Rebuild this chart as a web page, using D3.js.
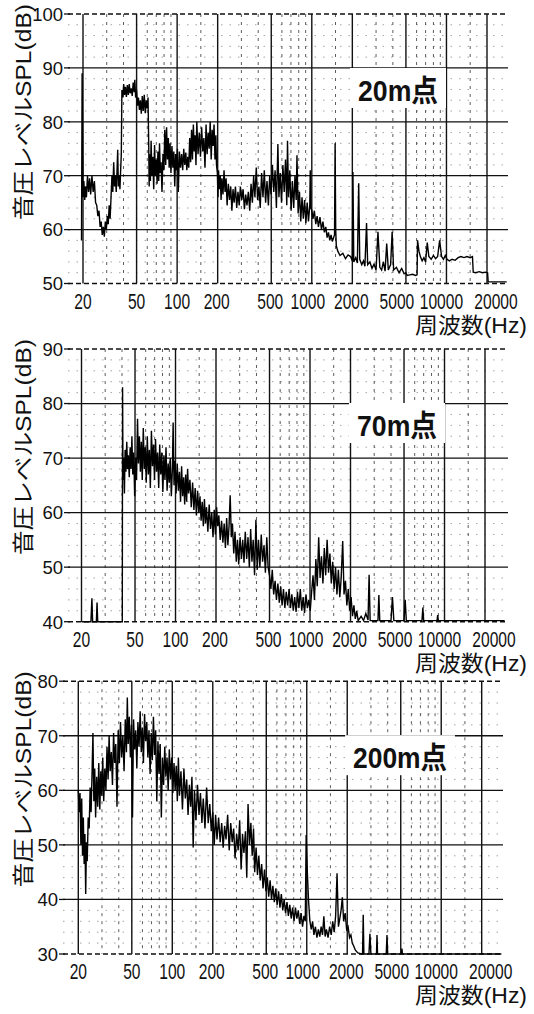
<!DOCTYPE html>
<html><head><meta charset="utf-8">
<script src="https://cdn.jsdelivr.net/npm/d3@7"></script>
<style>
html,body{margin:0;padding:0;background:#fff;}
svg{display:block;}
text{font-family:"Liberation Sans","Noto Sans CJK JP",sans-serif;fill:#111;}
</style></head><body>
<svg id="chart" width="534" height="1014"></svg>
<script>
// ---------- data ----------
const xTickValues = [20,50,100,200,500,1000,2000,5000,10000,20000];
const xTickLabels = ["20","50","100","200","500","1000","2000","5000","10000","20000"];
const minorFreqs = [30,40,60,70,80,90,150,300,400,600,700,800,900,1500,3000,4000,6000,7000,8000,9000,15000];
const yTicks20m = [50,60,70,80,90,100];
const yTicks70m = [40,50,60,70,80,90];
const yTicks200m = [30,40,50,60,70,80];
const panelTitles = ["20m点","70m点","200m点"];
const yAxisTitle = "音圧レベルSPL(dB)";
const xAxisTitle = "周波数(Hz)";

const trace20m = [[19.5,58],[19.7,89],[20.0,66],[20.3,69],[20.6,65.5],[20.9,68],[21.2,66],[21.6,70],[22.0,67],[22.4,69.5],[22.8,66.5],[23.3,70],[23.8,67],[24.3,69],[24.8,65],[25.3,64.5],[25.8,62.5],[26.3,63.5],[26.8,60.5],[27.3,61.5],[27.8,59],[28.3,60.5],[28.8,58.7],[29.3,61.5],[29.8,60],[30.3,62.5],[30.8,61],[31.3,64.5],[31.8,62],[32.3,66],[32.8,70],[33.3,67],[33.8,72.5],[34.3,68],[34.8,70],[35.3,67],[35.8,71],[36.2,74.8],[36.6,68],[37.1,70],[37.6,67.5],[38.0,70.5],[38.5,74],[38.9,85.9],[39.5,84.5],[40.1,87],[40.7,85],[41.3,86.5],[42.0,84.6],[42.7,86.8],[43.4,85],[44.1,87],[44.8,85.3],[45.6,86.2],[46.4,84.8],[47.2,87.3],[48.0,85.5],[48.5,87.8],[49.2,84.5],[50.0,85.8],[50.8,83],[51.6,84.5],[52.5,82.2],[53.3,84],[54.2,81.5],[55.1,84.8],[56.0,82],[57.0,85],[58.0,81.6],[59.0,84],[60.0,82.5],[60.8,84.5],[61.5,76],[62.0,68],[62.5,74],[63.3,69],[64.1,76.5],[65.0,70],[66.0,73.5],[67.0,67.5],[68.0,75.7],[69.0,70],[70.0,73],[71.0,68.5],[72.0,74.5],[73.0,69],[74.0,76],[75.0,70.5],[76.0,72.5],[77.2,67],[78.5,74],[79.8,71],[81.0,78.5],[82.3,72],[83.5,79],[84.8,73],[86.0,77],[87.3,71.5],[88.6,76],[90.0,70.5],[91.5,75.5],[93.0,71.5],[94.5,74.5],[96.0,68],[97.5,74],[99.0,71],[100.5,75],[102,67],[104,74.5],[106,71.5],[108,74],[110,71],[112,75],[114,72],[116,74.3],[118,71],[120,73.5],[122,71.5],[124,77],[126,72.5],[128,78.5],[130,73],[132,79.5],[134,74.5],[136,77.5],[138,72],[140,80],[143,74],[146,78],[149,73.5],[152,79],[155,74.5],[158,77],[161,71.5],[164,79.5],[167,74],[170,78],[173,75],[176,80],[179,73],[182,78.5],[185,75.5],[188,79.5],[191,73],[194,77.5],[196,72],[199,70.5],[201,66],[203,71],[206,67.5],[209,70],[212,65.5],[215,69.5],[219,66.5],[223,71],[227,67],[231,69.5],[235,64.5],[240,68.5],[245,65.5],[250,68],[255,63.5],[260,67.5],[265,65],[271,68],[277,64],[283,67],[289,64.5],[295,68],[302,65.5],[309,67.5],[316,63.8],[323,66.5],[330,64.5],[338,67],[346,63.5],[354,68.5],[362,65],[370,70],[378,66],[387,71.5],[396,65.5],[405,68],[414,64],[424,70.5],[434,66],[444,71],[454,65],[465,69],[476,64.5],[487,70],[498,66.5],[510,72],[522,67],[534,71],[546,64],[560,75.9],[570,66],[583,70.5],[596,65],[610,72],[624,67],[638,73],[652,64.5],[660,76.5],[672,66],[687,71],[702,63.5],[718,69],[734,64],[750,70],[766,65.5],[776,73.8],[792,63],[810,67],[828,61.5],[846,66],[865,62],[884,65.5],[904,61.2],[924,65],[945,61.5],[966,64.5],[974,71],[985,64],[1000,63.6],[1020,62],[1045,63.5],[1070,61],[1095,62.5],[1120,60.5],[1150,62.3],[1180,60],[1210,61.5],[1240,59.5],[1270,60.5],[1300,58.5],[1330,59.5],[1360,58],[1390,59],[1420,57.8],[1450,58.5],[1475,59],[1490,76],[1505,60],[1520,57],[1560,56],[1620,55.2],[1700,55.6],[1780,54.6],[1860,55.3],[1940,55],[2000,54.2],[2020,70.7],[2050,54],[2120,54.8],[2180,53.8],[2230,68.6],[2270,54.5],[2350,53.5],[2420,54.2],[2480,53.2],[2550,61.2],[2600,53.5],[2700,54],[2800,52.8],[2900,53.6],[3000,52.5],[3100,59.6],[3200,53],[3300,52.5],[3400,54],[3500,52.3],[3600,57.4],[3700,52.5],[3850,53.5],[3950,59.6],[4050,52.5],[4250,53],[4450,52],[4650,52.8],[4850,51.8],[5000,52],[5100,51.5],[5350,51.6],[5600,51.7],[5900,51.5],[6050,51.6],[6100,58],[6250,56],[6400,55],[6600,54.2],[6800,54.8],[7000,54],[7200,57.6],[7400,55],[7700,54.5],[8000,55.2],[8300,54.6],[8600,55],[8900,58],[9200,55],[9500,54.5],[9800,55.2],[10100,54.5],[10500,54.2],[11000,54.5],[11600,54.3],[12200,54.8],[12800,55],[13500,54.8],[14200,55],[15000,54.8],[15600,55],[15800,52.1],[16500,52],[17500,52.2],[18500,52],[19500,52.1],[20200,52],[20400,50.3],[22000,50.3],[28000,50.3]];

const trace70m = [[20,40],[23.5,40],[23.9,44.3],[24.2,40],[25.8,40],[26.1,43.5],[26.4,40],[30,40],[35,40],[40.2,40],[40.4,83],[40.7,66],[41.2,70],[41.7,63.5],[42.2,71.5],[42.8,67.5],[43.4,73],[44.0,68],[44.6,70.5],[45.3,66.5],[46.0,72],[46.7,68],[47.4,74],[48.1,67],[48.9,71],[49.7,63],[50.5,70],[51.3,66],[52.2,77.2],[53.0,69],[53.9,74],[54.8,67.5],[55.7,73],[56.6,66],[57.6,75.5],[58.6,68],[59.6,72],[60.6,65.5],[61.7,74],[62.8,67],[63.9,71.5],[65.0,64.5],[66.2,75],[67.4,68.5],[68.6,72.5],[69.8,66],[71.0,73.5],[72.3,67.5],[73.6,71],[75.0,64.5],[76.3,72.5],[77.7,67],[79.1,71],[80.5,63.8],[82.0,70.5],[83.5,66],[85.0,72],[86.6,64],[88.2,69],[89.8,65.5],[91.4,70],[93.1,63],[94.8,68],[96.0,76.5],[97.5,65],[99.2,69.5],[101,63.5],[103,69],[105,64],[107,67.5],[109,62],[111,68.5],[113,63],[115,66.5],[117,61.5],[119,67],[121,62],[123,68],[125,63.5],[128,66],[131,61],[134,65.5],[137,60.5],[140,64.5],[143,59.5],[146,64],[149,60],[152,63],[155,58.5],[158,62],[161,57.5],[164,62.5],[167,58],[170,61],[174,56.5],[178,61.5],[182,57],[186,60],[190,55.5],[194,60.5],[198,56],[202,61],[206,57.5],[210,59.5],[215,55],[220,58.5],[225,54.5],[230,58],[235,53.5],[240,59],[245,54],[250,57.5],[255,63.2],[260,55.5],[265,58],[271,52.5],[277,56.5],[283,51],[289,55],[295,50.5],[302,55.5],[309,51.5],[316,55],[323,50.8],[330,56.5],[338,51.5],[346,55.5],[354,50],[362,57],[370,51],[378,55],[387,48.5],[396,58.7],[405,49.5],[414,55],[424,50],[434,56],[444,51],[455,54],[466,49],[477,55.5],[488,50],[500,48.5],[512,46],[524,49.5],[537,45],[550,47.5],[563,44],[577,47],[591,43.5],[605,46.5],[620,43],[635,46],[650,42.5],[666,45.5],[682,43],[699,46],[716,42.5],[733,45],[751,42],[769,44.5],[788,41.8],[807,45.5],[827,42.5],[847,46],[868,42],[889,44.5],[911,41.6],[933,45],[956,42.5],[980,44],[1004,42],[1028,45.5],[1053,48.5],[1079,44],[1105,51.5],[1132,46.5],[1160,55.5],[1188,48],[1217,52],[1247,47],[1277,53.5],[1308,48.5],[1340,55],[1373,49],[1406,52.5],[1440,47],[1475,51],[1511,46],[1548,50],[1586,45],[1625,49.5],[1665,44.5],[1705,48],[1750,54.8],[1790,45],[1834,47.5],[1879,43],[1925,46],[1972,42],[2020,44.5],[2070,41],[2120,43],[2172,40.5],[2225,42],[2280,40.2],[2400,41],[2500,40.2],[2600,41.5],[2700,40.3],[2750,48.6],[2800,40.2],[3200,40.2],[3250,44.9],[3300,40.2],[4000,40.2],[4100,44.5],[4200,40.2],[5000,40.2],[5100,44],[5200,40.2],[6800,40.2],[6900,42.6],[7000,40.2],[8800,40.2],[8900,41.2],[9000,40.2],[28000,40.2]];

const trace200m = [[20,60],[20.3,56],[20.6,59.5],[20.9,50],[21.2,58.5],[21.5,48],[21.8,55],[22.1,46.5],[22.4,52],[22.7,41],[23.0,50.5],[23.3,47],[23.7,55],[24.1,53],[24.5,60.5],[24.9,56],[25.3,63],[25.7,70.5],[26.1,58],[26.5,64],[26.9,55],[27.4,62.5],[27.9,57],[28.4,65],[28.9,56.5],[29.4,63.5],[29.9,59],[30.4,66],[30.9,58],[31.5,64],[32.1,60],[32.7,68],[33.3,62],[33.9,70],[34.5,63.5],[35.2,67],[35.9,61],[36.6,70.5],[37.3,65],[38.0,68.5],[38.8,57],[39.6,71],[40.4,65],[41.2,72.5],[42.0,66],[42.9,70],[43.8,63.5],[44.7,73],[45.6,67],[46.3,77],[47.0,68.5],[47.9,73.5],[48.8,66],[49.7,72],[50.6,55],[51.5,73],[52.5,67.5],[53.5,71],[54.5,64],[55.5,72.5],[56.6,68],[57.7,74.5],[58.8,67],[59.9,71.5],[61.0,65],[62.2,74],[63.4,69],[64.6,72.5],[65.8,66],[67.1,71],[68.4,63],[69.7,70.5],[71.0,65.5],[72.4,73.5],[73.8,66.5],[75.2,71],[76.7,58],[78.2,69],[79.7,63],[81.3,68.5],[82.9,55],[84.5,66],[86.2,61],[87.9,68],[89.6,62.5],[91.4,66],[93.2,60],[95.0,67.5],[97,62],[99,66],[101,59.5],[103,65],[105,60],[107,64.5],[109,58],[111,66],[113,59],[116,63.5],[119,56.5],[122,64],[125,58.5],[128,62],[131,55.5],[134,61],[137,57],[140,62.5],[143,49.5],[146,60],[150,54.5],[154,61],[158,55.5],[162,59.5],[166,54],[170,58.5],[175,53],[180,60.5],[185,54],[190,57.5],[195,52.5],[200,56],[205,50],[210,55.5],[215,51],[221,55],[227,50.5],[233,54],[239,49.5],[245,53.5],[251,51],[258,55.5],[265,49],[272,54],[279,50.5],[286,53],[293,47.5],[301,52],[309,49],[317,54.5],[325,45.5],[333,52],[341,48.5],[350,52.5],[358,44],[366,57.5],[375,50],[384,54],[393,48],[402,53],[410,45],[420,49.5],[430,44.5],[440,48],[451,43.5],[462,46.5],[473,42],[485,45.5],[497,41.5],[509,44],[521,40.5],[534,43.5],[547,40],[560,42.5],[574,39.5],[588,42],[602,39],[617,41.5],[632,38.5],[647,41],[663,38],[679,40],[696,37.5],[713,39.5],[730,37],[748,39],[766,36.5],[785,38.5],[804,36],[824,38.5],[844,36.5],[865,38],[886,35.5],[908,37.5],[930,35],[953,37],[975,36],[990,51.8],[1010,45],[1030,40],[1055,36],[1080,34.5],[1105,36],[1130,33.5],[1160,35],[1190,33],[1220,34.5],[1250,33.2],[1280,35],[1310,33.5],[1340,36.9],[1370,33.2],[1400,34.5],[1440,33],[1480,35],[1520,33.5],[1560,36],[1600,34],[1640,37],[1680,44.8],[1720,35],[1760,36.5],[1800,38],[1840,40.4],[1880,36],[1930,37.5],[1980,34.5],[2030,35],[2080,33],[2130,33.5],[2180,32],[2230,31.5],[2300,30.7],[2400,30.2],[2550,30],[2600,30],[2630,37.2],[2660,30],[2900,30],[2950,33.7],[3000,30],[3300,30],[3330,33.5],[3360,30],[3900,30],[3950,33.5],[4000,30],[5050,30],[5100,31],[5150,30],[28000,30]];

// ---------- layout ----------
const panels = [
  {title: panelTitles[0], trace: trace20m, yTicks: yTicks20m, left: 68, right: 508, top: 14, bottom: 283.5, x20: 83, x20k: 487, titleX: 358},
  {title: panelTitles[1], trace: trace70m, yTicks: yTicks70m, left: 68, right: 508, top: 349, bottom: 621.7, x20: 81.5, x20k: 485, titleX: 357},
  {title: panelTitles[2], trace: trace200m, yTicks: yTicks200m, left: 63, right: 503, top: 681.2, bottom: 954, x20: 78.3, x20k: 481.7, titleX: 353}
];
const labelNudge = {20:0, 50:0, 100:0, 200:-1, 500:-1, 1000:-4, 2000:-1, 5000:-9, 10000:-5, 20000:9};

const svg = d3.select("#chart");
svg.append("rect").attr("width",534).attr("height",1014).attr("fill","#fff");

panels.forEach(p => {
  const g = svg.append("g");
  const yDom = d3.extent(p.yTicks);
  const x = d3.scaleLog().domain([20,20000]).range([p.x20, p.x20k]);
  const y = d3.scaleLinear().domain(yDom).range([p.bottom, p.top]);

  // minor horizontal (2 dB) grid
  const minorY = d3.range(yDom[0]+2, yDom[1], 2).filter(v => v % 10 !== 0);
  g.selectAll(".hmin").data(minorY).join("line")
    .attr("x1", p.left).attr("x2", p.right)
    .attr("y1", d => y(d)).attr("y2", d => y(d))
    .attr("stroke","#666").attr("stroke-width",0.6).attr("stroke-dasharray","1.5,7");

  // minor vertical grid
  g.selectAll(".vmin").data(minorFreqs).join("line")
    .attr("x1", d => x(d)).attr("x2", d => x(d))
    .attr("y1", p.top).attr("y2", p.bottom)
    .attr("stroke","#333").attr("stroke-width",0.8).attr("stroke-dasharray","3,5");

  // major horizontal grid
  g.selectAll(".hmaj").data(p.yTicks.slice(1, -1)).join("line")
    .attr("x1", p.left).attr("x2", p.right)
    .attr("y1", d => y(d)).attr("y2", d => y(d))
    .attr("stroke","#111").attr("stroke-width",1.3);

  // top and bottom borders (dotted)
  [yDom[1], yDom[0]].forEach(v => {
    g.append("line").attr("x1", p.left).attr("x2", p.right)
      .attr("y1", y(v)).attr("y2", y(v))
      .attr("stroke","#111").attr("stroke-width",1.4).attr("stroke-dasharray","5,3");
  });

  // major vertical grid
  g.selectAll(".vmaj").data(xTickValues).join("line")
    .attr("x1", d => x(d)).attr("x2", d => x(d))
    .attr("y1", p.top).attr("y2", p.bottom)
    .attr("stroke","#111").attr("stroke-width",1.4);

  // y ticks + labels
  g.selectAll(".ytk").data(p.yTicks).join("line")
    .attr("x1", p.left - 4).attr("x2", p.left + 2)
    .attr("y1", d => y(d)).attr("y2", d => y(d))
    .attr("stroke","#111").attr("stroke-width",1.3);
  g.selectAll(".ylab").data(p.yTicks).join("text")
    .attr("x", p.left - 5).attr("y", d => y(d) + 6.8)
    .attr("text-anchor","end").attr("font-size",18.5)
    .text(d => d);

  // x labels (condensed via vertical stretch)
  g.selectAll(".xlab").data(xTickValues).join("text")
    .attr("transform", d => `translate(${x(d) + labelNudge[d]},${p.bottom + 25}) scale(1,1.4)`)
    .attr("text-anchor","middle").attr("font-size",15.6)
    .text((d,i) => xTickLabels[i]);

  // x axis title
  g.append("text").attr("x", 527).attr("y", p.bottom + 49)
    .attr("text-anchor","end").attr("font-size",21.5)
    .attr("textLength",112).attr("lengthAdjust","spacingAndGlyphs")
    .text(xAxisTitle);

  // y axis title
  g.append("text")
    .attr("transform", `translate(23,${p.top + 98}) rotate(-90)`)
    .attr("text-anchor","middle").attr("dy","0.36em").attr("font-size",22)
    .attr("textLength",216).attr("lengthAdjust","spacingAndGlyphs")
    .text(yAxisTitle);

  // title box
  const tw = p.title.length >= 5 ? 94 : 80;
  const base = p.top + 87;
  g.append("rect").attr("x", p.titleX - 8).attr("y", base - 33)
    .attr("width", tw + 16).attr("height", 40).attr("fill","#fff");

  // data trace
  const line = d3.line().x(d => x(d[0])).y(d => y(d[1]));
  g.append("path").datum(p.trace).attr("d", line)
    .attr("fill","none").attr("stroke","#000").attr("stroke-width",1.4)
    .attr("stroke-linejoin","miter");

  // title
  g.append("text").attr("x", p.titleX).attr("y", base)
    .attr("font-size",30).attr("font-weight","bold")
    .attr("textLength", tw).attr("lengthAdjust","spacingAndGlyphs")
    .text(p.title);
});
</script>
</body></html>
